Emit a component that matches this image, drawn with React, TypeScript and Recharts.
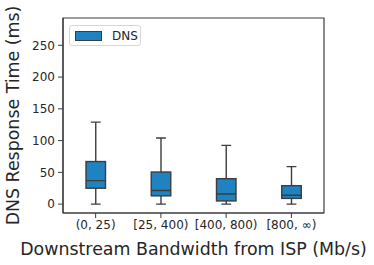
import { ComposedChart, Bar, XAxis, YAxis, ReferenceArea } from "recharts"

// bandwidth buckets and box stats (ms)
const categories = ["(0, 25)", "[25, 400)", "[400, 800)", "[800, ∞)"]
const whiskerLow = [0, 0, 0, 0]
const q1 = [25, 13, 5, 9]
const median = [37, 21.5, 16, 14]
const q3 = [67, 50.5, 40, 29]
const whiskerHigh = [129, 104, 92.5, 59]
const yTicks = [0, 50, 100, 150, 200, 250]
const yDomain = [-14, 293]
const seriesName = "DNS"

const data = categories.map((name, i) => ({
  name,
  min: whiskerLow[i],
  q1: q1[i],
  median: median[i],
  q3: q3[i],
  max: whiskerHigh[i],
}))

const FILL = "#1f83c2"
const EDGE = "#3d3d3d"
const TEXT = "#262626"
const FONT = "'DejaVu Sans', sans-serif"

// draws one box from the bar's [min, max] rectangle
function BoxShape(props: any) {
  const { x, y, width, height, payload } = props
  const top = Math.min(y, y + height)
  const h = Math.abs(height)
  const span = payload.max - payload.min
  const unit = span > 0 ? h / span : 0
  const yOf = (v: number) => top + (payload.max - v) * unit
  const cx = x + width / 2
  const cap = width / 2
  return (
    <g>
      <line x1={cx} x2={cx} y1={yOf(payload.max)} y2={yOf(payload.q3)} stroke={EDGE} strokeWidth={1.4} />
      <line x1={cx} x2={cx} y1={yOf(payload.q1)} y2={yOf(payload.min)} stroke={EDGE} strokeWidth={1.4} />
      <line x1={cx - cap / 2} x2={cx + cap / 2} y1={yOf(payload.max)} y2={yOf(payload.max)} stroke={EDGE} strokeWidth={1.4} />
      <line x1={cx - cap / 2} x2={cx + cap / 2} y1={yOf(payload.min)} y2={yOf(payload.min)} stroke={EDGE} strokeWidth={1.4} />
      <rect
        x={x}
        y={yOf(payload.q3)}
        width={width}
        height={yOf(payload.q1) - yOf(payload.q3)}
        fill={FILL}
        stroke={EDGE}
        strokeWidth={1.4}
      />
      <line x1={x} x2={x + width} y1={yOf(payload.median)} y2={yOf(payload.median)} stroke={EDGE} strokeWidth={1.4} />
    </g>
  )
}

export default function App() {
  return (
    <div style={{ position: "absolute", left: 0, top: 0, width: 374, height: 265, fontFamily: FONT }}>
      <ComposedChart width={374} height={265} data={data} margin={{ top: 18, right: 50, bottom: 0, left: 0 }}>
        <XAxis
          dataKey="name"
          tickLine={{ stroke: EDGE }}
          tickSize={5}
          axisLine={{ stroke: EDGE, strokeWidth: 1.2 }}
          tick={{ fill: TEXT, fontSize: 12, fontFamily: FONT }}
          interval={0}
          height={52}
          label={({ viewBox }: any) => (
            <text
              x={viewBox.x + viewBox.width / 2}
              y={255}
              textAnchor="middle"
              fill={TEXT}
              fontSize={17.4}
              fontFamily={FONT}
            >
              Downstream Bandwidth from ISP (Mb/s)
            </text>
          )}
        />
        <YAxis
          domain={yDomain}
          ticks={yTicks}
          allowDataOverflow
          width={63}
          tickSize={5}
          tickMargin={3}
          tickLine={{ stroke: EDGE }}
          axisLine={{ stroke: EDGE, strokeWidth: 1.2 }}
          tick={{ fill: TEXT, fontSize: 12, fontFamily: FONT }}
          label={({ viewBox }: any) => (
            <text
              x={19}
              y={viewBox.y + viewBox.height / 2}
              transform={`rotate(-90 19 ${viewBox.y + viewBox.height / 2})`}
              textAnchor="middle"
              fill={TEXT}
              fontSize={17.4}
              fontFamily={FONT}
            >
              DNS Response Time (ms)
            </text>
          )}
        />
        {/* plot frame (matplotlib spines) */}
        <ReferenceArea y1={yDomain[0]} y2={yDomain[1]} fill="none" stroke={EDGE} strokeWidth={1.2} ifOverflow="visible" />
        <Bar
          dataKey={(d: any) => [d.min, d.max]}
          barSize={19.5}
          shape={BoxShape}
          isAnimationActive={false}
        />
      </ComposedChart>
      <div
        style={{
          position: "absolute",
          left: 69,
          top: 25,
          width: 72,
          height: 21,
          boxSizing: "border-box",
          border: "1px solid #d6d6d6",
          borderRadius: 3,
          background: "#fff",
          display: "flex",
          alignItems: "center",
        }}
      >
        <div style={{ marginLeft: 5, width: 25, height: 8, background: FILL, border: `1px solid ${EDGE}` }} />
        <span style={{ marginLeft: 10, fontSize: 12, color: TEXT }}>{seriesName}</span>
      </div>
    </div>
  )
}
